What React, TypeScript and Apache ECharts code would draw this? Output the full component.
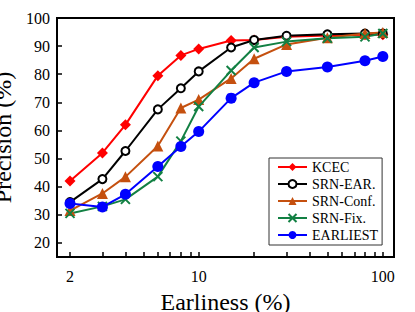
import React, { useEffect, useRef } from "react";
import * as echarts from "echarts";

const earliness = [2, 3, 4, 6, 8, 10, 15, 20, 30, 50, 80, 100];
const kcec = [42, 52, 62, 79.5, 86.7, 89, 92, 92.2, 93.3, 93.8, 94, 94];
const srnEar = [34.5, 42.7, 52.7, 67.5, 75, 81, 89.5, 92.2, 93.7, 94.2, 94.5, 94.5];
const srnConf = [31.5, 37.6, 43.5, 54.5, 68, 71, 78.5, 85.5, 90.6, 93, 94.5, 94.8];
const srnFix = [30.5, 33, 35.5, 43.6, 56.2, 68.5, 81.3, 89.5, 91.6, 92.8, 93.3, 94.5];
const earliest = [34, 32.8, 37.3, 47.2, 54.3, 59.6, 71.5, 77, 81, 82.6, 84.8, 86.3];

const xTickValues = [2, 3, 4, 5, 6, 7, 8, 9, 10, 20, 30, 40, 50, 60, 70, 80, 90, 100];
const xLabelValues = [2, 10, 100];
const yTickValues = [20, 30, 40, 50, 60, 70, 80, 90, 100];

const FONT = "Liberation Serif";
const X_SYMBOL = "path://M0,0 L10,10 M10,0 L0,10";

const pairs = (ys: number[]) => earliness.map((x, i) => [x, ys[i]]);

export default function App() {
  const ref = useRef<HTMLDivElement>(null);
  useEffect(() => {
    if (!ref.current) return;
    const chart = echarts.init(ref.current, null, { renderer: "svg" });
    const mk = (
      name: string,
      ys: number[],
      color: string,
      symbol: string,
      symbolSize: number,
      extraItem: any = {}
    ) => ({
      name,
      type: "line",
      data: pairs(ys),
      symbol,
      symbolSize,
      showAllSymbol: true,
      lineStyle: { color, width: 2 },
      itemStyle: { color, ...extraItem },
    });
    chart.setOption({
      animation: false,
      backgroundColor: "#fff",
      textStyle: { fontFamily: FONT, color: "#000" },
      grid: {
        left: 57,
        right: 21,
        top: 18,
        bottom: 55,
        show: true,
        borderColor: "#000",
        borderWidth: 2,
        containLabel: false,
        outerBoundsMode: "none",
      },
      legend: {
        orient: "vertical",
        left: 269,
        top: 158,
        backgroundColor: "#fff",
        borderColor: "#333",
        borderWidth: 1,
        borderRadius: 0,
        padding: [2, 4, 3, 8],
        itemGap: 3,
        itemWidth: 29,
        itemHeight: 10,
        textStyle: { fontFamily: FONT, fontSize: 14, color: "#000" },
        data: ["KCEC", "SRN-EAR.", "SRN-Conf.", "SRN-Fix.", "EARLIEST"],
      },
      xAxis: {
        type: "log",
        logBase: 10,
        min: 1.7,
        max: 115,
        name: "Earliness (%)",
        nameLocation: "middle",
        nameGap: 33,
        nameTextStyle: { fontFamily: FONT, fontSize: 24, color: "#000" },
        axisLine: { show: true, lineStyle: { color: "#000", width: 2 } },
        axisTick: {
          show: true,
          inside: true,
          length: 5,
          lineStyle: { color: "#000", width: 1.5 },
          customValues: xTickValues,
        },
        minorTick: { show: false },
        axisLabel: {
          fontFamily: FONT,
          fontSize: 16,
          color: "#000",
          margin: 11,
          customValues: xLabelValues,
        },
        splitLine: { show: false },
      },
      yAxis: {
        type: "value",
        min: 15,
        max: 100,
        name: "Precision (%)",
        nameLocation: "middle",
        nameGap: 41,
        nameTextStyle: { fontFamily: FONT, fontSize: 24, color: "#000" },
        axisLine: { show: true, lineStyle: { color: "#000", width: 2 } },
        axisTick: {
          show: true,
          inside: true,
          length: 5,
          lineStyle: { color: "#000", width: 1.5 },
          customValues: yTickValues,
        },
        axisLabel: {
          fontFamily: FONT,
          fontSize: 16,
          color: "#000",
          margin: 7,
          customValues: yTickValues,
        },
        splitLine: { show: false },
      },
      series: [
        mk("KCEC", kcec, "#ff0000", "diamond", 11),
        mk("SRN-EAR.", srnEar, "#000000", "emptyCircle", 8, { borderWidth: 2 }),
        mk("SRN-Conf.", srnConf, "#c5500f", "triangle", 11),
        mk("SRN-Fix.", srnFix, "#128043", X_SYMBOL, 9, {
          borderColor: "#128043",
          borderWidth: 2,
        }),
        mk("EARLIEST", earliest, "#0000ff", "circle", 11),
      ],
    });
    return () => chart.dispose();
  }, []);
  return (
    <div
      ref={ref}
      style={{ position: "fixed", left: 0, top: 0, width: 415, height: 312 }}
    />
  );
}
